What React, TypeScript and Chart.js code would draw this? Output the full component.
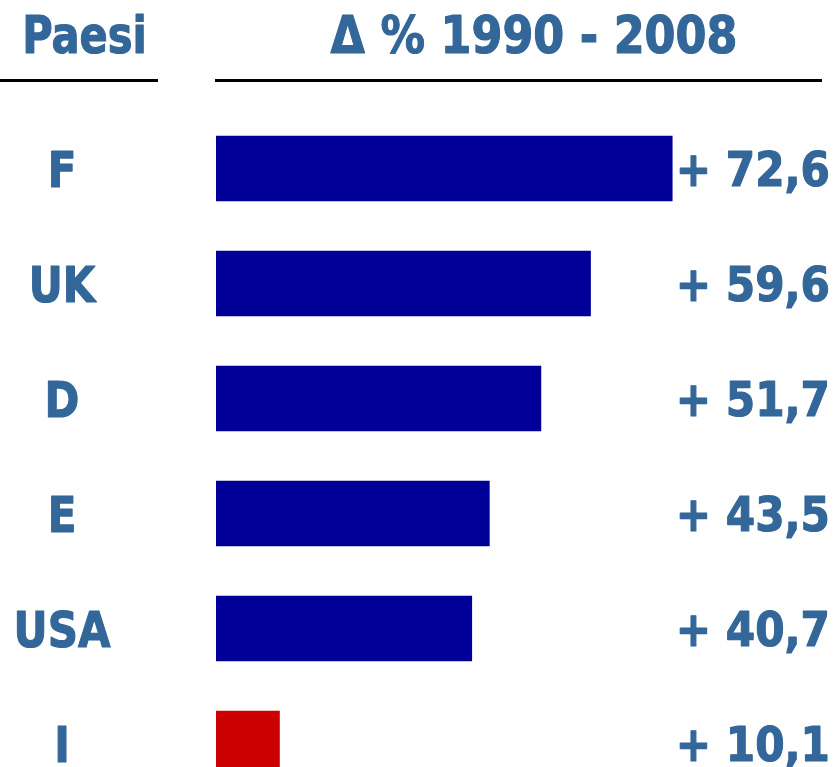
import React, { useEffect, useRef } from "react";
import { Chart, registerables } from "chart.js";

Chart.register(...registerables);

const categories: string[] = ["F", "UK", "D", "E", "USA", "I"];
const values: number[] = [72.6, 59.6, 51.7, 43.5, 40.7, 10.1];
const barColors: string[] = ["#000099", "#000099", "#000099", "#000099", "#000099", "#CC0000"];
const headerLeft = "Paesi";
const headerRight = "\u0394 % 1990 - 2008";

const TEXT_COLOR = "#336699";
const FONT = "'DejaVu Sans', Verdana, sans-serif";

function drawScaled(
  ctx: CanvasRenderingContext2D,
  text: string,
  x: number,
  baseline: number,
  size: number,
  sx: number,
  align: CanvasTextAlign
) {
  ctx.save();
  ctx.translate(x, baseline);
  ctx.scale(sx, 1);
  ctx.font = `bold ${size}px ${FONT}`;
  ctx.fillStyle = TEXT_COLOR;
  ctx.strokeStyle = TEXT_COLOR;
  ctx.lineWidth = 1.2;
  ctx.lineJoin = "round";
  ctx.textAlign = align;
  ctx.textBaseline = "alphabetic";
  ctx.fillText(text, 0, 0);
  ctx.strokeText(text, 0, 0);
  ctx.restore();
}

const decorPlugin = {
  id: "decor",
  afterDatasetsDraw(chart: any) {
    const ctx: CanvasRenderingContext2D = chart.ctx;
    const yScale = chart.scales.y;
    // headers
    drawScaled(ctx, headerLeft, 84.5, 53, 52, 0.8, "center");
    drawScaled(ctx, headerRight, 534, 53, 52, 0.855, "center");
    // header rules
    ctx.save();
    ctx.strokeStyle = "#000000";
    ctx.lineWidth = 3;
    ctx.beginPath();
    ctx.moveTo(0, 80.5);
    ctx.lineTo(158, 80.5);
    ctx.moveTo(215, 80.5);
    ctx.lineTo(822, 80.5);
    ctx.stroke();
    ctx.restore();
    // category + value labels
    categories.forEach((cat, i) => {
      const cy = yScale.getPixelForValue(i);
      const catSize = 50;
      drawScaled(ctx, cat, 62, cy + (catSize * 0.729) / 2, catSize, 0.84, "center");
      const valSize = 48;
      const label = "+ " + values[i].toFixed(1).replace(".", ",");
      drawScaled(ctx, label, 830, cy + (valSize * 0.729) / 2, valSize, 0.88, "right");
    });
  },
};

export default function App() {
  const canvasRef = useRef<HTMLCanvasElement | null>(null);

  useEffect(() => {
    document.body.style.margin = "0";
    const canvas = canvasRef.current;
    if (!canvas) return;
    const H = 767;
    const top = 111;
    const step = 115;
    const yMin = -0.5;
    const yMax = yMin + (H - top) / step;
    const chart = new Chart(canvas, {
      type: "bar",
      data: {
        datasets: [
          {
            data: values.map((v, i) => ({ x: v, y: i })),
            backgroundColor: barColors,
            borderWidth: 0,
            barThickness: 65,
          } as any,
        ],
      },
      options: {
        indexAxis: "y",
        responsive: false,
        animation: false,
        devicePixelRatio: 1,
        layout: { padding: { left: 216, right: 23, top: top, bottom: 0 } },
        plugins: {
          legend: { display: false },
          tooltip: { enabled: false },
        },
        scales: {
          x: { type: "linear", min: 0, max: 95, display: false, offset: false, grid: { display: false } },
          y: {
            type: "linear",
            min: yMin,
            max: yMax,
            reverse: true,
            offset: false,
            display: false,
            grid: { display: false, offset: false },
          },
        },
      } as any,
      plugins: [decorPlugin],
    });
    return () => chart.destroy();
  }, []);

  return (
    <div style={{ position: "fixed", left: 0, top: 0, width: 836, height: 767, background: "#ffffff" }}>
      <canvas ref={canvasRef} width={836} height={767} style={{ width: 836, height: 767, display: "block" }} />
    </div>
  );
}
